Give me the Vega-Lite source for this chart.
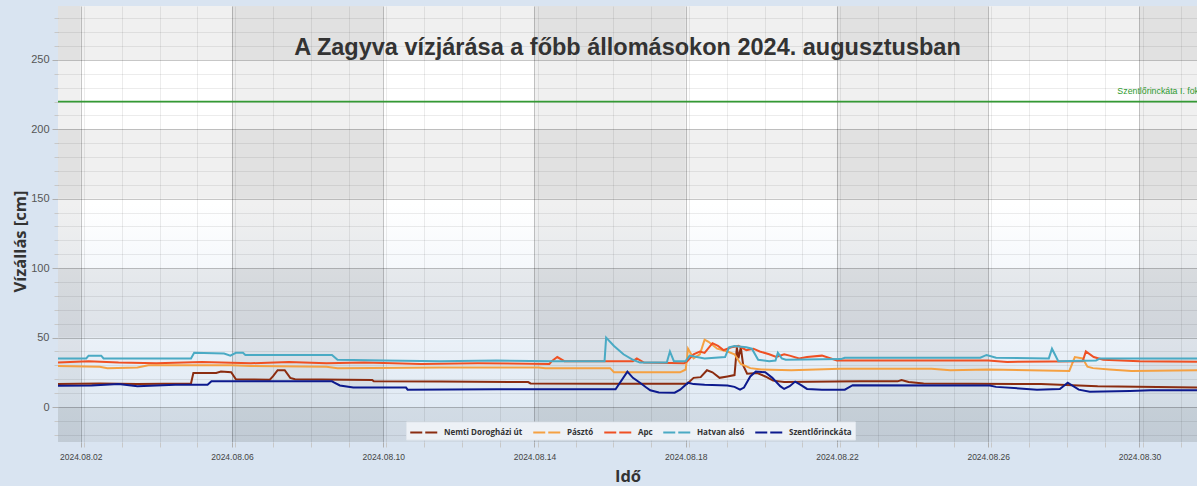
{
  "$schema": "https://vega.github.io/schema/vega-lite/v6.json",
  "width": 1139,
  "height": 436,
  "autosize": {"type": "none"},
  "padding": {"left": 58, "top": 6, "right": 0, "bottom": 44},
  "background": "#d9e4f1",
  "view": {
    "stroke": null,
    "fill": {"gradient": "linear", "x1": 0, "y1": 0, "x2": 0, "y2": 1,
      "stops": [{"offset": 0, "color": "#ffffff"}, {"offset": 0.454, "color": "#ffffff"}, {"offset": 1, "color": "#dbe6f2"}]}
  },
  "config": {"font": "Liberation Sans"},
  "title": {
    "text": "A Zagyva vízjárása a főbb állomásokon 2024. augusztusban",
    "font": "Liberation Sans", "fontSize": 23.5, "fontWeight": "bold", "color": "#333333",
    "anchor": "middle", "frame": "group", "baseline": "alphabetic", "offset": -72
  },
  "datasets": {
    "colbands": [
      {"start": "2024-07-31T00:00", "end": "2024-08-02T00:00"},
      {"start": "2024-08-06T00:00", "end": "2024-08-10T00:00"},
      {"start": "2024-08-14T00:00", "end": "2024-08-18T00:00"},
      {"start": "2024-08-22T00:00", "end": "2024-08-26T00:00"},
      {"start": "2024-08-30T00:00", "end": "2024-09-03T00:00"}
    ],
    "rowbands": [
      {"lo": -40, "hi": 0}, {"lo": 50, "hi": 100}, {"lo": 150, "hi": 200}, {"lo": 250, "hi": 320}
    ],
    "threshold": [
      {"v": 220, "t": "2024-08-29T10:00", "label": "Szentlőrinckáta I. fokú"}
    ],
    "levels": [
      {"s": "Nemti Dorogházi út", "t": "2024-08-01T07:00", "v": 16.5},
      {"s": "Nemti Dorogházi út", "t": "2024-08-02T12:00", "v": 17},
      {"s": "Nemti Dorogházi út", "t": "2024-08-03T12:00", "v": 16.5},
      {"s": "Nemti Dorogházi út", "t": "2024-08-04T22:00", "v": 17},
      {"s": "Nemti Dorogházi út", "t": "2024-08-04T23:30", "v": 24.5},
      {"s": "Nemti Dorogházi út", "t": "2024-08-05T14:00", "v": 24.5},
      {"s": "Nemti Dorogházi út", "t": "2024-08-05T17:00", "v": 25.5},
      {"s": "Nemti Dorogházi út", "t": "2024-08-05T23:30", "v": 25},
      {"s": "Nemti Dorogházi út", "t": "2024-08-06T02:30", "v": 20},
      {"s": "Nemti Dorogházi út", "t": "2024-08-07T00:00", "v": 19.7},
      {"s": "Nemti Dorogházi út", "t": "2024-08-07T02:00", "v": 22},
      {"s": "Nemti Dorogházi út", "t": "2024-08-07T05:00", "v": 26.5},
      {"s": "Nemti Dorogházi út", "t": "2024-08-07T09:30", "v": 26.5},
      {"s": "Nemti Dorogházi út", "t": "2024-08-07T13:00", "v": 21},
      {"s": "Nemti Dorogházi út", "t": "2024-08-07T16:00", "v": 20},
      {"s": "Nemti Dorogházi út", "t": "2024-08-09T17:00", "v": 19.5},
      {"s": "Nemti Dorogházi út", "t": "2024-08-09T18:00", "v": 18.5},
      {"s": "Nemti Dorogházi út", "t": "2024-08-11T12:00", "v": 18.3},
      {"s": "Nemti Dorogházi út", "t": "2024-08-13T20:00", "v": 18},
      {"s": "Nemti Dorogházi út", "t": "2024-08-13T21:30", "v": 17},
      {"s": "Nemti Dorogházi út", "t": "2024-08-16T00:00", "v": 16.7},
      {"s": "Nemti Dorogházi út", "t": "2024-08-18T01:00", "v": 16.8},
      {"s": "Nemti Dorogházi út", "t": "2024-08-18T05:00", "v": 21},
      {"s": "Nemti Dorogházi út", "t": "2024-08-18T09:30", "v": 21.5},
      {"s": "Nemti Dorogházi út", "t": "2024-08-18T13:30", "v": 26.5},
      {"s": "Nemti Dorogházi út", "t": "2024-08-18T17:00", "v": 25},
      {"s": "Nemti Dorogházi út", "t": "2024-08-18T21:30", "v": 21},
      {"s": "Nemti Dorogházi út", "t": "2024-08-19T02:30", "v": 22},
      {"s": "Nemti Dorogházi út", "t": "2024-08-19T07:00", "v": 23},
      {"s": "Nemti Dorogházi út", "t": "2024-08-19T08:30", "v": 43},
      {"s": "Nemti Dorogházi út", "t": "2024-08-19T09:30", "v": 35},
      {"s": "Nemti Dorogházi út", "t": "2024-08-19T11:00", "v": 43},
      {"s": "Nemti Dorogházi út", "t": "2024-08-19T12:30", "v": 30},
      {"s": "Nemti Dorogházi út", "t": "2024-08-19T15:00", "v": 24},
      {"s": "Nemti Dorogházi út", "t": "2024-08-19T21:30", "v": 24.5},
      {"s": "Nemti Dorogházi út", "t": "2024-08-20T02:30", "v": 22},
      {"s": "Nemti Dorogházi út", "t": "2024-08-20T07:30", "v": 19},
      {"s": "Nemti Dorogházi út", "t": "2024-08-20T14:30", "v": 18},
      {"s": "Nemti Dorogházi út", "t": "2024-08-22T14:30", "v": 18.5},
      {"s": "Nemti Dorogházi út", "t": "2024-08-23T14:30", "v": 18.5},
      {"s": "Nemti Dorogházi út", "t": "2024-08-23T17:00", "v": 19.5},
      {"s": "Nemti Dorogházi út", "t": "2024-08-23T21:30", "v": 18},
      {"s": "Nemti Dorogházi út", "t": "2024-08-24T07:00", "v": 17},
      {"s": "Nemti Dorogházi út", "t": "2024-08-27T09:30", "v": 16.5},
      {"s": "Nemti Dorogházi út", "t": "2024-08-28T21:30", "v": 15},
      {"s": "Nemti Dorogházi út", "t": "2024-08-31T14:30", "v": 14},

      {"s": "Pásztó", "t": "2024-08-01T07:00", "v": 29.5},
      {"s": "Pásztó", "t": "2024-08-02T12:00", "v": 29},
      {"s": "Pásztó", "t": "2024-08-02T17:00", "v": 28},
      {"s": "Pásztó", "t": "2024-08-03T12:00", "v": 28.5},
      {"s": "Pásztó", "t": "2024-08-03T19:00", "v": 30},
      {"s": "Pásztó", "t": "2024-08-06T00:00", "v": 30},
      {"s": "Pásztó", "t": "2024-08-06T12:00", "v": 29.5},
      {"s": "Pásztó", "t": "2024-08-08T12:00", "v": 29},
      {"s": "Pásztó", "t": "2024-08-08T19:00", "v": 28},
      {"s": "Pásztó", "t": "2024-08-11T12:00", "v": 28.5},
      {"s": "Pásztó", "t": "2024-08-14T02:30", "v": 28.5},
      {"s": "Pásztó", "t": "2024-08-14T07:00", "v": 28},
      {"s": "Pásztó", "t": "2024-08-16T00:00", "v": 28},
      {"s": "Pásztó", "t": "2024-08-16T02:30", "v": 25},
      {"s": "Pásztó", "t": "2024-08-17T20:30", "v": 25},
      {"s": "Pásztó", "t": "2024-08-18T00:00", "v": 27},
      {"s": "Pásztó", "t": "2024-08-18T01:30", "v": 42},
      {"s": "Pásztó", "t": "2024-08-18T05:00", "v": 35},
      {"s": "Pásztó", "t": "2024-08-18T09:00", "v": 38},
      {"s": "Pásztó", "t": "2024-08-18T12:00", "v": 48.5},
      {"s": "Pásztó", "t": "2024-08-18T14:30", "v": 47},
      {"s": "Pásztó", "t": "2024-08-18T20:00", "v": 42},
      {"s": "Pásztó", "t": "2024-08-19T02:30", "v": 40},
      {"s": "Pásztó", "t": "2024-08-19T07:00", "v": 38},
      {"s": "Pásztó", "t": "2024-08-19T11:00", "v": 31},
      {"s": "Pásztó", "t": "2024-08-19T17:00", "v": 28},
      {"s": "Pásztó", "t": "2024-08-20T00:00", "v": 27},
      {"s": "Pásztó", "t": "2024-08-20T19:00", "v": 26.5},
      {"s": "Pásztó", "t": "2024-08-22T02:00", "v": 27.5},
      {"s": "Pásztó", "t": "2024-08-24T12:00", "v": 27.5},
      {"s": "Pásztó", "t": "2024-08-25T00:00", "v": 26.5},
      {"s": "Pásztó", "t": "2024-08-26T00:00", "v": 27},
      {"s": "Pásztó", "t": "2024-08-28T03:30", "v": 26},
      {"s": "Pásztó", "t": "2024-08-28T07:00", "v": 36},
      {"s": "Pásztó", "t": "2024-08-28T12:00", "v": 35},
      {"s": "Pásztó", "t": "2024-08-28T15:00", "v": 29},
      {"s": "Pásztó", "t": "2024-08-28T18:30", "v": 28},
      {"s": "Pásztó", "t": "2024-08-29T05:00", "v": 27},
      {"s": "Pásztó", "t": "2024-08-29T19:00", "v": 26},
      {"s": "Pásztó", "t": "2024-08-31T14:30", "v": 26.5},

      {"s": "Apc", "t": "2024-08-01T07:00", "v": 32},
      {"s": "Apc", "t": "2024-08-02T05:00", "v": 33},
      {"s": "Apc", "t": "2024-08-03T00:00", "v": 32},
      {"s": "Apc", "t": "2024-08-04T00:00", "v": 31.5},
      {"s": "Apc", "t": "2024-08-05T05:00", "v": 32.5},
      {"s": "Apc", "t": "2024-08-06T12:00", "v": 31.5},
      {"s": "Apc", "t": "2024-08-07T12:00", "v": 32.5},
      {"s": "Apc", "t": "2024-08-08T12:00", "v": 31.5},
      {"s": "Apc", "t": "2024-08-09T12:00", "v": 32},
      {"s": "Apc", "t": "2024-08-11T00:00", "v": 31},
      {"s": "Apc", "t": "2024-08-12T12:00", "v": 31.5},
      {"s": "Apc", "t": "2024-08-14T09:30", "v": 31},
      {"s": "Apc", "t": "2024-08-14T11:00", "v": 33},
      {"s": "Apc", "t": "2024-08-14T14:30", "v": 36},
      {"s": "Apc", "t": "2024-08-14T19:00", "v": 33},
      {"s": "Apc", "t": "2024-08-16T14:30", "v": 33},
      {"s": "Apc", "t": "2024-08-16T17:00", "v": 35},
      {"s": "Apc", "t": "2024-08-16T21:30", "v": 32},
      {"s": "Apc", "t": "2024-08-17T23:00", "v": 31.5},
      {"s": "Apc", "t": "2024-08-18T01:00", "v": 33},
      {"s": "Apc", "t": "2024-08-18T05:00", "v": 38},
      {"s": "Apc", "t": "2024-08-18T09:00", "v": 40},
      {"s": "Apc", "t": "2024-08-18T12:00", "v": 39},
      {"s": "Apc", "t": "2024-08-18T17:00", "v": 46},
      {"s": "Apc", "t": "2024-08-18T20:30", "v": 44},
      {"s": "Apc", "t": "2024-08-19T00:00", "v": 41},
      {"s": "Apc", "t": "2024-08-19T05:00", "v": 43},
      {"s": "Apc", "t": "2024-08-19T09:30", "v": 44},
      {"s": "Apc", "t": "2024-08-19T14:30", "v": 41},
      {"s": "Apc", "t": "2024-08-19T19:00", "v": 42},
      {"s": "Apc", "t": "2024-08-19T23:00", "v": 40},
      {"s": "Apc", "t": "2024-08-20T05:00", "v": 38},
      {"s": "Apc", "t": "2024-08-20T09:30", "v": 36},
      {"s": "Apc", "t": "2024-08-20T14:30", "v": 38},
      {"s": "Apc", "t": "2024-08-20T18:00", "v": 37},
      {"s": "Apc", "t": "2024-08-21T00:00", "v": 35},
      {"s": "Apc", "t": "2024-08-21T05:00", "v": 36},
      {"s": "Apc", "t": "2024-08-21T14:30", "v": 37},
      {"s": "Apc", "t": "2024-08-22T00:00", "v": 33.5},
      {"s": "Apc", "t": "2024-08-26T00:00", "v": 33.5},
      {"s": "Apc", "t": "2024-08-26T12:00", "v": 32.5},
      {"s": "Apc", "t": "2024-08-28T12:00", "v": 33},
      {"s": "Apc", "t": "2024-08-28T14:00", "v": 40},
      {"s": "Apc", "t": "2024-08-28T19:00", "v": 36},
      {"s": "Apc", "t": "2024-08-29T01:00", "v": 34},
      {"s": "Apc", "t": "2024-08-30T00:00", "v": 33},
      {"s": "Apc", "t": "2024-08-31T14:30", "v": 32.5},

      {"s": "Hatvan alsó", "t": "2024-08-01T07:00", "v": 35},
      {"s": "Hatvan alsó", "t": "2024-08-02T03:30", "v": 35},
      {"s": "Hatvan alsó", "t": "2024-08-02T05:00", "v": 37},
      {"s": "Hatvan alsó", "t": "2024-08-02T13:00", "v": 37},
      {"s": "Hatvan alsó", "t": "2024-08-02T14:30", "v": 35},
      {"s": "Hatvan alsó", "t": "2024-08-04T22:00", "v": 35},
      {"s": "Hatvan alsó", "t": "2024-08-05T00:00", "v": 39},
      {"s": "Hatvan alsó", "t": "2024-08-05T19:00", "v": 38.5},
      {"s": "Hatvan alsó", "t": "2024-08-05T23:00", "v": 37},
      {"s": "Hatvan alsó", "t": "2024-08-06T02:30", "v": 39},
      {"s": "Hatvan alsó", "t": "2024-08-06T07:00", "v": 39},
      {"s": "Hatvan alsó", "t": "2024-08-06T08:30", "v": 37.5},
      {"s": "Hatvan alsó", "t": "2024-08-08T15:30", "v": 37.5},
      {"s": "Hatvan alsó", "t": "2024-08-08T19:00", "v": 34},
      {"s": "Hatvan alsó", "t": "2024-08-10T00:00", "v": 33.5},
      {"s": "Hatvan alsó", "t": "2024-08-11T12:00", "v": 33},
      {"s": "Hatvan alsó", "t": "2024-08-13T00:00", "v": 33.5},
      {"s": "Hatvan alsó", "t": "2024-08-14T12:00", "v": 33},
      {"s": "Hatvan alsó", "t": "2024-08-15T20:30", "v": 33},
      {"s": "Hatvan alsó", "t": "2024-08-15T21:30", "v": 50},
      {"s": "Hatvan alsó", "t": "2024-08-16T02:30", "v": 44},
      {"s": "Hatvan alsó", "t": "2024-08-16T08:30", "v": 38},
      {"s": "Hatvan alsó", "t": "2024-08-16T14:30", "v": 34},
      {"s": "Hatvan alsó", "t": "2024-08-16T19:00", "v": 32},
      {"s": "Hatvan alsó", "t": "2024-08-17T12:00", "v": 32},
      {"s": "Hatvan alsó", "t": "2024-08-17T14:00", "v": 40},
      {"s": "Hatvan alsó", "t": "2024-08-17T16:30", "v": 33},
      {"s": "Hatvan alsó", "t": "2024-08-18T00:00", "v": 33},
      {"s": "Hatvan alsó", "t": "2024-08-18T02:30", "v": 37},
      {"s": "Hatvan alsó", "t": "2024-08-18T07:00", "v": 36},
      {"s": "Hatvan alsó", "t": "2024-08-18T12:00", "v": 35},
      {"s": "Hatvan alsó", "t": "2024-08-19T01:00", "v": 36},
      {"s": "Hatvan alsó", "t": "2024-08-19T03:30", "v": 43},
      {"s": "Hatvan alsó", "t": "2024-08-19T07:00", "v": 44},
      {"s": "Hatvan alsó", "t": "2024-08-19T14:30", "v": 43},
      {"s": "Hatvan alsó", "t": "2024-08-19T18:00", "v": 42},
      {"s": "Hatvan alsó", "t": "2024-08-19T22:00", "v": 34},
      {"s": "Hatvan alsó", "t": "2024-08-20T05:00", "v": 33},
      {"s": "Hatvan alsó", "t": "2024-08-20T09:00", "v": 33.5},
      {"s": "Hatvan alsó", "t": "2024-08-20T10:30", "v": 39},
      {"s": "Hatvan alsó", "t": "2024-08-20T13:00", "v": 35},
      {"s": "Hatvan alsó", "t": "2024-08-20T15:30", "v": 34},
      {"s": "Hatvan alsó", "t": "2024-08-22T02:30", "v": 34.5},
      {"s": "Hatvan alsó", "t": "2024-08-22T05:00", "v": 35.5},
      {"s": "Hatvan alsó", "t": "2024-08-25T19:00", "v": 35.5},
      {"s": "Hatvan alsó", "t": "2024-08-25T23:00", "v": 37.5},
      {"s": "Hatvan alsó", "t": "2024-08-26T05:00", "v": 35.5},
      {"s": "Hatvan alsó", "t": "2024-08-27T14:30", "v": 35},
      {"s": "Hatvan alsó", "t": "2024-08-27T16:30", "v": 42},
      {"s": "Hatvan alsó", "t": "2024-08-27T20:30", "v": 33},
      {"s": "Hatvan alsó", "t": "2024-08-28T20:30", "v": 33.5},
      {"s": "Hatvan alsó", "t": "2024-08-28T23:00", "v": 35},
      {"s": "Hatvan alsó", "t": "2024-08-31T14:30", "v": 35},

      {"s": "Szentlőrinckáta", "t": "2024-08-01T07:00", "v": 15.2},
      {"s": "Szentlőrinckáta", "t": "2024-08-02T07:00", "v": 15.5},
      {"s": "Szentlőrinckáta", "t": "2024-08-03T00:00", "v": 16.5},
      {"s": "Szentlőrinckáta", "t": "2024-08-03T12:00", "v": 15},
      {"s": "Szentlőrinckáta", "t": "2024-08-04T12:00", "v": 16},
      {"s": "Szentlőrinckáta", "t": "2024-08-05T08:30", "v": 16},
      {"s": "Szentlőrinckáta", "t": "2024-08-05T11:00", "v": 18.5},
      {"s": "Szentlőrinckáta", "t": "2024-08-08T15:30", "v": 18.5},
      {"s": "Szentlőrinckáta", "t": "2024-08-08T17:00", "v": 17.5},
      {"s": "Szentlőrinckáta", "t": "2024-08-08T20:30", "v": 15.5},
      {"s": "Szentlőrinckáta", "t": "2024-08-09T05:00", "v": 14},
      {"s": "Szentlőrinckáta", "t": "2024-08-10T14:30", "v": 14},
      {"s": "Szentlőrinckáta", "t": "2024-08-10T15:30", "v": 12.5},
      {"s": "Szentlőrinckáta", "t": "2024-08-13T00:00", "v": 12.8},
      {"s": "Szentlőrinckáta", "t": "2024-08-16T03:30", "v": 12.8},
      {"s": "Szentlőrinckáta", "t": "2024-08-16T11:00", "v": 25.5},
      {"s": "Szentlőrinckáta", "t": "2024-08-16T14:30", "v": 21},
      {"s": "Szentlőrinckáta", "t": "2024-08-16T19:00", "v": 17.5},
      {"s": "Szentlőrinckáta", "t": "2024-08-16T23:00", "v": 14},
      {"s": "Szentlőrinckáta", "t": "2024-08-17T01:30", "v": 12},
      {"s": "Szentlőrinckáta", "t": "2024-08-17T07:00", "v": 10.5},
      {"s": "Szentlőrinckáta", "t": "2024-08-17T17:00", "v": 10.3},
      {"s": "Szentlőrinckáta", "t": "2024-08-17T20:30", "v": 12.5},
      {"s": "Szentlőrinckáta", "t": "2024-08-18T01:30", "v": 17.5},
      {"s": "Szentlőrinckáta", "t": "2024-08-18T05:00", "v": 16.5},
      {"s": "Szentlőrinckáta", "t": "2024-08-18T12:00", "v": 16},
      {"s": "Szentlőrinckáta", "t": "2024-08-19T02:30", "v": 15.5},
      {"s": "Szentlőrinckáta", "t": "2024-08-19T07:00", "v": 14.5},
      {"s": "Szentlőrinckáta", "t": "2024-08-19T10:30", "v": 12.5},
      {"s": "Szentlőrinckáta", "t": "2024-08-19T13:00", "v": 14},
      {"s": "Szentlőrinckáta", "t": "2024-08-19T17:00", "v": 22},
      {"s": "Szentlőrinckáta", "t": "2024-08-19T20:30", "v": 25.5},
      {"s": "Szentlőrinckáta", "t": "2024-08-20T02:30", "v": 25},
      {"s": "Szentlőrinckáta", "t": "2024-08-20T07:00", "v": 21},
      {"s": "Szentlőrinckáta", "t": "2024-08-20T12:00", "v": 15},
      {"s": "Szentlőrinckáta", "t": "2024-08-20T14:30", "v": 13},
      {"s": "Szentlőrinckáta", "t": "2024-08-20T18:00", "v": 15},
      {"s": "Szentlőrinckáta", "t": "2024-08-20T21:30", "v": 18.3},
      {"s": "Szentlőrinckáta", "t": "2024-08-21T01:00", "v": 16},
      {"s": "Szentlőrinckáta", "t": "2024-08-21T05:00", "v": 13},
      {"s": "Szentlőrinckáta", "t": "2024-08-21T14:30", "v": 12.5},
      {"s": "Szentlőrinckáta", "t": "2024-08-22T05:00", "v": 12.5},
      {"s": "Szentlőrinckáta", "t": "2024-08-22T10:00", "v": 15.7},
      {"s": "Szentlőrinckáta", "t": "2024-08-26T01:00", "v": 15.5},
      {"s": "Szentlőrinckáta", "t": "2024-08-26T05:00", "v": 14.5},
      {"s": "Szentlőrinckáta", "t": "2024-08-27T07:00", "v": 12.5},
      {"s": "Szentlőrinckáta", "t": "2024-08-27T21:30", "v": 13},
      {"s": "Szentlőrinckáta", "t": "2024-08-28T02:30", "v": 17.5},
      {"s": "Szentlőrinckáta", "t": "2024-08-28T09:30", "v": 12.5},
      {"s": "Szentlőrinckáta", "t": "2024-08-28T16:30", "v": 11},
      {"s": "Szentlőrinckáta", "t": "2024-08-29T18:00", "v": 11.5},
      {"s": "Szentlőrinckáta", "t": "2024-08-30T07:00", "v": 12},
      {"s": "Szentlőrinckáta", "t": "2024-08-31T14:30", "v": 12}
    ]
  },
  "layer": [
    {
      "data": {"name": "colbands"},
      "mark": {"type": "rect", "fill": "#000000", "opacity": 0.059, "clip": true},
      "encoding": {
        "x": {
          "field": "start", "type": "temporal",
          "scale": {"domain": [{"year": 2024, "month": 8, "date": 1, "hours": 9, "minutes": 35}, {"year": 2024, "month": 8, "date": 31, "hours": 12, "minutes": 33}]},
          "axis": {
            "orient": "bottom", "title": null, "labels": false, "domain": false,
            "grid": true, "gridColor": "#000000", "gridOpacity": 0.075,
            "ticks": true, "tickSize": 5, "tickColor": "#c8c8c8",
            "values": [
              {"year": 2024, "month": 8, "date": 1, "hours": 2, "minutes": 5},
              {"year": 2024, "month": 8, "date": 2, "hours": 2, "minutes": 5},
              {"year": 2024, "month": 8, "date": 3, "hours": 2, "minutes": 5},
              {"year": 2024, "month": 8, "date": 4, "hours": 2, "minutes": 5},
              {"year": 2024, "month": 8, "date": 5, "hours": 2, "minutes": 5},
              {"year": 2024, "month": 8, "date": 6, "hours": 2, "minutes": 5},
              {"year": 2024, "month": 8, "date": 7, "hours": 2, "minutes": 5},
              {"year": 2024, "month": 8, "date": 8, "hours": 2, "minutes": 5},
              {"year": 2024, "month": 8, "date": 9, "hours": 2, "minutes": 5},
              {"year": 2024, "month": 8, "date": 10, "hours": 2, "minutes": 5},
              {"year": 2024, "month": 8, "date": 11, "hours": 2, "minutes": 5},
              {"year": 2024, "month": 8, "date": 12, "hours": 2, "minutes": 5},
              {"year": 2024, "month": 8, "date": 13, "hours": 2, "minutes": 5},
              {"year": 2024, "month": 8, "date": 14, "hours": 2, "minutes": 5},
              {"year": 2024, "month": 8, "date": 15, "hours": 2, "minutes": 5},
              {"year": 2024, "month": 8, "date": 16, "hours": 2, "minutes": 5},
              {"year": 2024, "month": 8, "date": 17, "hours": 2, "minutes": 5},
              {"year": 2024, "month": 8, "date": 18, "hours": 2, "minutes": 5},
              {"year": 2024, "month": 8, "date": 19, "hours": 2, "minutes": 5},
              {"year": 2024, "month": 8, "date": 20, "hours": 2, "minutes": 5},
              {"year": 2024, "month": 8, "date": 21, "hours": 2, "minutes": 5},
              {"year": 2024, "month": 8, "date": 22, "hours": 2, "minutes": 5},
              {"year": 2024, "month": 8, "date": 23, "hours": 2, "minutes": 5},
              {"year": 2024, "month": 8, "date": 24, "hours": 2, "minutes": 5},
              {"year": 2024, "month": 8, "date": 25, "hours": 2, "minutes": 5},
              {"year": 2024, "month": 8, "date": 26, "hours": 2, "minutes": 5},
              {"year": 2024, "month": 8, "date": 27, "hours": 2, "minutes": 5},
              {"year": 2024, "month": 8, "date": 28, "hours": 2, "minutes": 5},
              {"year": 2024, "month": 8, "date": 29, "hours": 2, "minutes": 5},
              {"year": 2024, "month": 8, "date": 30, "hours": 2, "minutes": 5},
              {"year": 2024, "month": 8, "date": 31, "hours": 2, "minutes": 5}
            ]
          }
        },
        "x2": {"field": "end"}
      }
    },
    {
      "data": {"name": "rowbands"},
      "mark": {"type": "rect", "fill": "#000000", "opacity": 0.059, "clip": true},
      "encoding": {
        "y": {
          "field": "lo", "type": "quantitative",
          "scale": {"domain": [-25.2, 288.8], "nice": false, "zero": false},
          "axis": {
            "orient": "left", "title": null, "labels": false, "domain": false,
            "grid": true, "gridColor": "#000000", "gridOpacity": 0.075,
            "ticks": true, "tickSize": 4, "tickColor": "#c8c8c8",
            "values": [-20, -10, 10, 20, 30, 40, 60, 70, 80, 90, 110, 120, 130, 140, 160, 170, 180, 190, 210, 220, 230, 240, 260, 270, 280]
          }
        },
        "y2": {"field": "hi"}
      }
    },
    {
      "data": {"name": "levels"},
      "mark": {"type": "line", "strokeWidth": 2, "clip": true},
      "encoding": {
        "x": {
          "field": "t", "type": "temporal",
          "scale": {"domain": [{"year": 2024, "month": 8, "date": 1, "hours": 9, "minutes": 35}, {"year": 2024, "month": 8, "date": 31, "hours": 12, "minutes": 33}]},
          "axis": {
            "orient": "bottom", "title": "Idő", "format": "%Y.%m.%d", "domain": false,
            "grid": true, "gridColor": "#000000", "gridOpacity": 0.22,
            "tickSize": 5, "tickColor": "#b0b0b0", "labelFlush": false,
            "labelFont": "Liberation Sans", "labelFontSize": 8.5, "labelColor": "#444444", "labelPadding": 5,
            "titleFont": "Open Sans", "titleFontSize": 16.5, "titleFontWeight": "bold", "titleColor": "#333333",
            "titleY": 39.5, "titleBaseline": "alphabetic",
            "values": [
              {"year": 2024, "month": 8, "date": 2},
              {"year": 2024, "month": 8, "date": 6},
              {"year": 2024, "month": 8, "date": 10},
              {"year": 2024, "month": 8, "date": 14},
              {"year": 2024, "month": 8, "date": 18},
              {"year": 2024, "month": 8, "date": 22},
              {"year": 2024, "month": 8, "date": 26},
              {"year": 2024, "month": 8, "date": 30}
            ]
          }
        },
        "y": {
          "field": "v", "type": "quantitative",
          "scale": {"domain": [-25.2, 288.8], "nice": false, "zero": false},
          "axis": {
            "orient": "left", "title": "Vízállás [cm]", "domain": false,
            "values": [0, 50, 100, 150, 200, 250],
            "grid": true, "gridColor": "#000000", "gridOpacity": 0.22,
            "tickSize": 6, "tickColor": "#b0b0b0",
            "labelFont": "Liberation Sans", "labelFontSize": 11, "labelColor": "#555555", "labelPadding": 3,
            "titleFont": "Open Sans", "titleFontSize": 16.5, "titleFontWeight": "bold", "titleColor": "#333333",
            "titleX": -33, "titleY": 235, "titleBaseline": "alphabetic", "titleAngle": 270, "titleAlign": "center"
          }
        },
        "color": {
          "field": "s", "type": "nominal",
          "scale": {
            "domain": ["Nemti Dorogházi út", "Pásztó", "Apc", "Hatvan alsó", "Szentlőrinckáta"],
            "range": ["#8b2c10", "#f5a142", "#ef5023", "#4aaac4", "#0d1a8e"]
          },
          "legend": {
            "orient": "none", "legendX": 348, "legendY": 415.5, "direction": "horizontal", "columns": 5,
            "title": null, "symbolType": "M-1,0L3,0", "symbolStrokeWidth": 2, "symbolDash": [12, 3], "symbolSize": 182.25,
            "symbolFillColor": "transparent",
            "labelFont": "Open Sans", "labelFontSize": 8, "labelFontWeight": "bold", "labelColor": "#333333",
            "labelOffset": 19, "columnPadding": 6, "padding": 3,
            "fillColor": "#edf1f6", "strokeColor": "#e0e6ed"
          }
        }
      }
    },
    {
      "data": {"name": "threshold"},
      "mark": {"type": "rule", "color": "#349a34", "strokeWidth": 1.8},
      "encoding": {
        "y": {"field": "v", "type": "quantitative", "axis": null}
      }
    },
    {
      "data": {"name": "threshold"},
      "mark": {"type": "text", "align": "left", "baseline": "alphabetic", "dy": -8, "fontSize": 8.8, "font": "Liberation Sans", "color": "#2e9a2e"},
      "encoding": {
        "x": {"field": "t", "type": "temporal", "axis": null},
        "y": {"field": "v", "type": "quantitative", "axis": null},
        "text": {"field": "label"}
      }
    }
  ],
  "resolve": {"axis": {"x": "independent", "y": "independent"}}
}
